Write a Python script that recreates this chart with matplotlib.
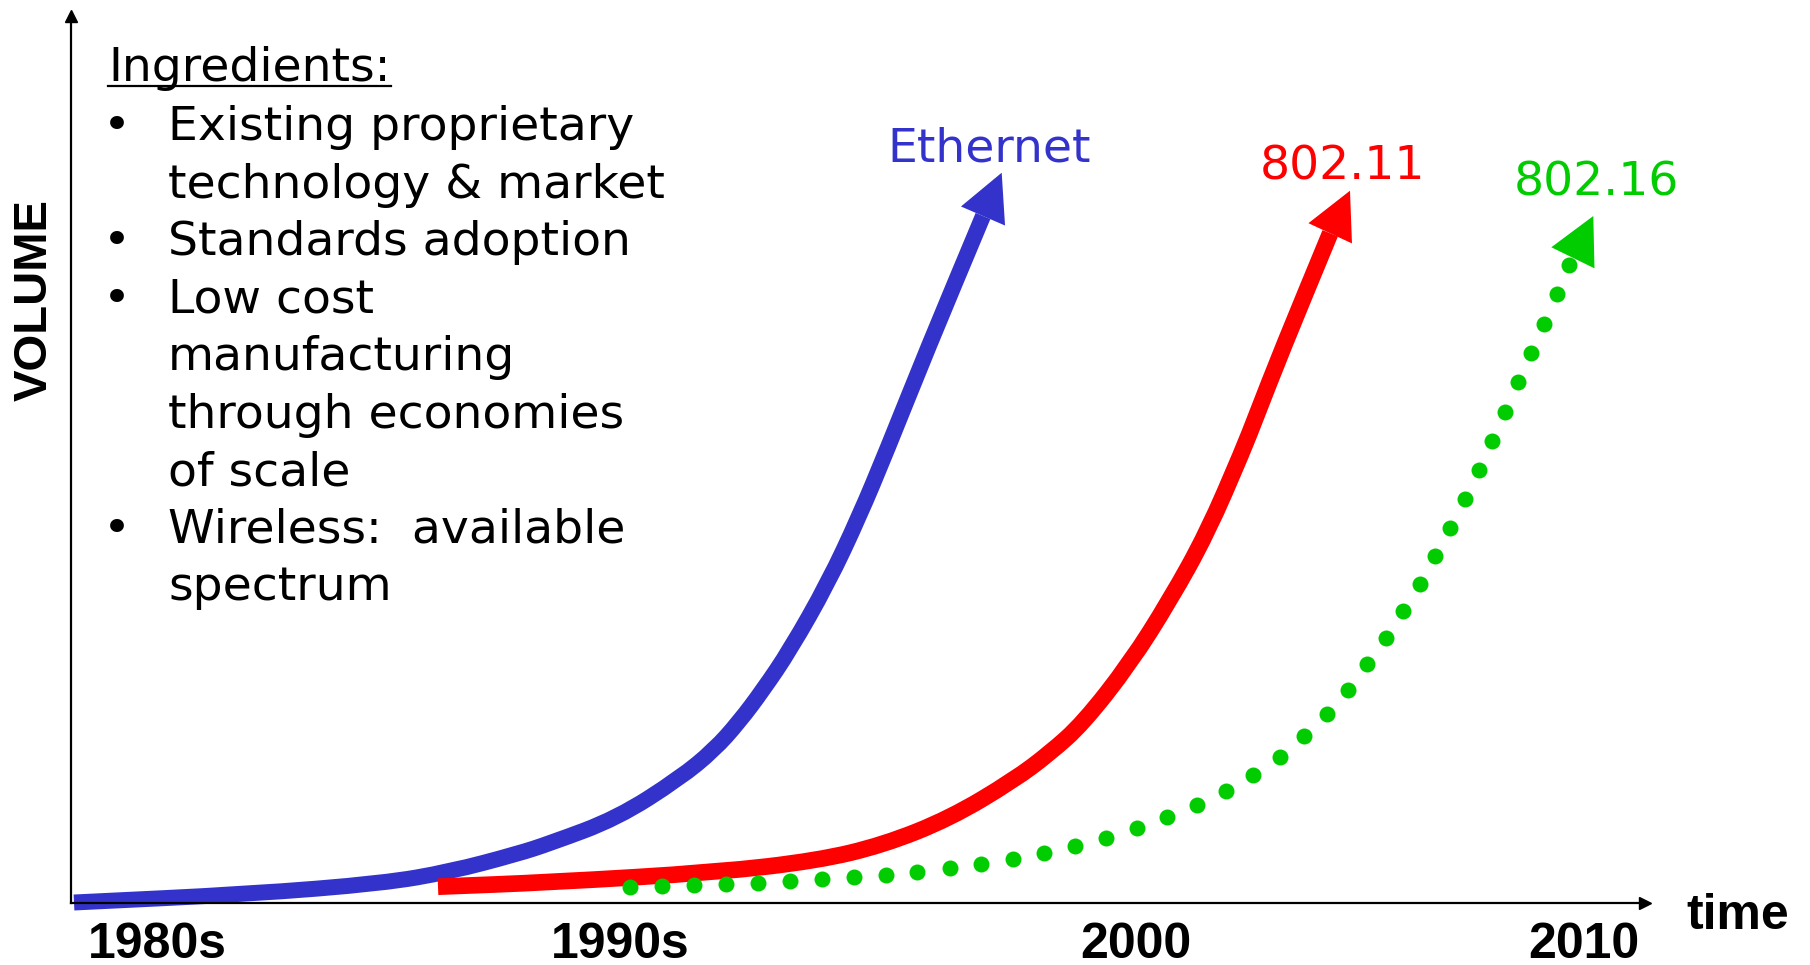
import numpy as np
import matplotlib
matplotlib.use('Agg')
import matplotlib.pyplot as plt
from matplotlib.patches import Polygon, PathPatch
from matplotlib.path import Path
from matplotlib.lines import Line2D

W, H = 1810, 965

BLUE = '#3333CC'
RED = '#FF0000'
GREEN = '#00CC00'

# time axis ticks
tick_pos = [86, 549, 1065, 1513]
tick_labels = ['1980s', '1990s', '2000', '2010']

# adoption curves (time, volume); last point is the arrow tip
eth_t = [3, 179, 312, 379, 446, 479, 546, 609, 643, 668, 692, 719, 757, 788, 816, 856, 912, 930.7]
eth_v = [0.5, 9, 19.7, 31.3, 49, 59.7, 84.7, 125, 153, 181, 213, 253, 320, 386, 453, 553, 687, 730.3]

wifi_t = [367, 479, 646, 746, 812, 879, 943, 979, 1012, 1059, 1099, 1136, 1172, 1185, 1211, 1259.2, 1279]
wifi_v = [16.3, 20.7, 30.7, 42.3, 58, 84.7, 123, 150, 179.7, 239.7, 303, 369.7, 453, 486.3, 553, 669.7, 712.3]

wimax_t = [558.5, 590.6, 622.8, 654.9, 687, 718.7, 750.9, 783, 814.7, 846.4, 878.6, 910.3,
           942, 973.2, 1004.4, 1035.2, 1066, 1096, 1125.7, 1154.7, 1182, 1208.7, 1233, 1256,
           1277, 1296.3, 1315, 1332.3, 1348.7, 1364.3, 1379.3, 1394, 1407.7, 1421.3, 1434.3,
           1447.3, 1460, 1473, 1485.7, 1498.3]
wimax_v = [16.3, 17.3, 18, 19, 20.3, 22, 24, 25.7, 28, 31, 34.7, 39,
           44, 50, 57.3, 65.3, 74.7, 85.7, 98.5, 112.3, 128.3, 146.3, 166.7, 189.3,
           213.3, 238.7, 265, 292, 319, 347, 375.3, 404, 433, 462, 491.3,
           520.7, 550, 579.3, 608.7, 638]
wimax_head = [(1501.9, 645.2), (1522.3, 687)]

ingredients = [
    ('•', 'Existing proprietary'),
    ('', 'technology & market'),
    ('•', 'Standards adoption'),
    ('•', 'Low cost'),
    ('', 'manufacturing'),
    ('', 'through economies'),
    ('', 'of scale'),
    ('•', 'Wireless:  available'),
    ('', 'spectrum'),
]


def fx(x):
    return x / W


def fy(y):
    return 1 - y / H


def smooth_path(xs, ys):
    # quadratic bezier through the midpoints, using each point as control
    p = np.column_stack([xs, ys]).astype(float)
    verts = [p[0], (p[0] + p[1]) / 2]
    codes = [Path.MOVETO, Path.LINETO]
    for i in range(1, len(p) - 1):
        verts += [p[i], (p[i] + p[i + 1]) / 2]
        codes += [Path.CURVE3, Path.CURVE3]
    verts.append(p[-1])
    codes.append(Path.LINETO)
    return Path(verts, codes)


def draw_curve(ax, xs, ys, color, lw):
    ax.add_patch(PathPatch(smooth_path(xs, ys), facecolor='none', edgecolor=color,
                           lw=lw, capstyle='butt', joinstyle='round',
                           clip_on=False, zorder=2))


def arrow_head(ax, base, tip, width, color):
    base = np.asarray(base, float)
    tip = np.asarray(tip, float)
    d = tip - base
    n = np.array([-d[1], d[0]]) / np.hypot(*d) * width / 2
    ax.add_patch(Polygon([tip, base + n, base - n], closed=True,
                         facecolor=color, edgecolor='none', clip_on=False, zorder=3))


fig = plt.figure(figsize=(W / 100, H / 100), dpi=100)
ax = fig.add_axes([fx(71), fy(903), (1645 - 71) / W, (903 - 16) / H])
ax.set_xlim(0, 1574)
ax.set_ylim(0, 887)

for s in ['top', 'right']:
    ax.spines[s].set_visible(False)
for s in ['left', 'bottom']:
    ax.spines[s].set_linewidth(1.6)
    ax.spines[s].set_zorder(4)
ax.plot(1, 0, '>k', ms=9, transform=ax.get_yaxis_transform(), clip_on=False, zorder=4)
ax.plot(0, 1, '^k', ms=9, transform=ax.get_xaxis_transform(), clip_on=False, zorder=4)

ax.set_yticks([])
ax.set_xticks(tick_pos, tick_labels, fontfamily='Liberation Sans',
              fontweight='bold', fontsize=36)
ax.tick_params(axis='x', length=0, pad=14)

# Ethernet and 802.11: solid thick arrows
draw_curve(ax, eth_t[:-1], eth_v[:-1], BLUE, 11.5)
arrow_head(ax, (eth_t[-2], eth_v[-2]), (eth_t[-1], eth_v[-1]), 48, BLUE)

draw_curve(ax, wifi_t[:-1], wifi_v[:-1], RED, 12)
arrow_head(ax, (wifi_t[-2], wifi_v[-2]), (wifi_t[-1], wifi_v[-1]), 48, RED)

# 802.16: dotted arrow
ax.plot(wimax_t, wimax_v, 'o', ms=11.5, color=GREEN, mec='none', clip_on=False, zorder=2)
arrow_head(ax, wimax_head[0], wimax_head[1], 48, GREEN)

body = dict(fontfamily='DejaVu Sans', fontsize=34, va='baseline')
fig.text(fx(887), fy(161), 'Ethernet', color=BLUE, **body)
fig.text(fx(1260), fy(179), '802.11', color=RED, **body)
fig.text(fx(1514), fy(195), '802.16', color=GREEN, **body)

head = fig.text(fx(108), fy(81), 'Ingredients:', color='black', **body)
for i, (bullet, line) in enumerate(ingredients):
    y = 140 + i * 57.5
    if bullet:
        fig.text(fx(117), fy(y), bullet, ha='center', color='black', **body)
    fig.text(fx(168), fy(y), line, color='black', **body)

fig.canvas.draw()
bb = head.get_window_extent()
fig.add_artist(Line2D([bb.x0 / W, bb.x1 / W], [fy(85.5), fy(85.5)],
                      color='black', lw=1.6, transform=fig.transFigure))

fig.text(fx(1686), fy(929), 'time', fontfamily='Liberation Sans',
         fontweight='bold', fontsize=36, va='baseline')
fig.text(fx(35), fy(300), 'VOLUME', rotation=90, ha='center', va='center',
         fontfamily='Liberation Sans', fontweight='bold', fontsize=34)

fig.savefig('out.png', dpi=100)
